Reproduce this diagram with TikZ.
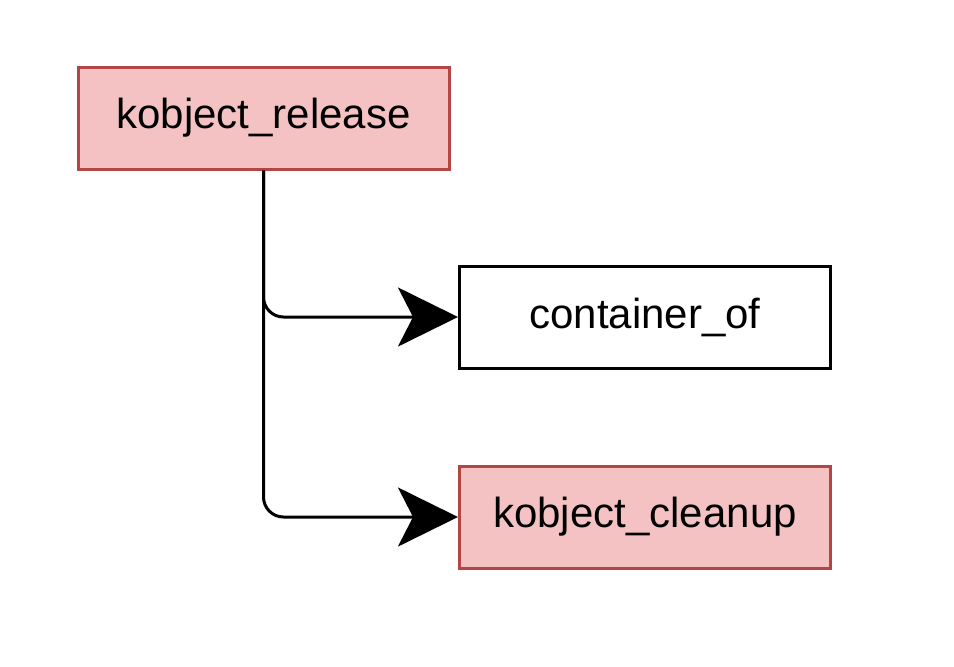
\documentclass[tikz,border=0pt]{standalone}
\usepackage{fontspec}
\setmainfont{Liberation Sans}
\usetikzlibrary{arrows.meta,positioning}
\definecolor{ink}{RGB}{0,0,0}
\definecolor{hotfill}{RGB}{244,194,194}
\definecolor{hotline}{RGB}{180,69,69}
\tikzset{
  fn/.style={draw=ink,line width=1.5pt,fill=white,minimum width=185.5pt,
    minimum height=51pt,inner sep=0pt,font=\fontsize{21}{25}\selectfont},
  hot/.style={fn,draw=hotline,fill=hotfill},
  ar/.style={-{Stealth[length=30pt,width=29.5pt,inset=7.5pt]},
    line width=1.5pt,rounded corners=10pt},
}
\begin{document}
\begin{tikzpicture}[x=0.5pt,y=-0.5pt]
  \useasboundingbox (0,0) rectangle (954,666);
  \node[hot] (rel)   at (263.5,118) {kobject\_release};
  \node[fn]  (cont)  at (645,317)   {container\_of};
  \node[hot] (clean) at (645,517)   {kobject\_cleanup};
  % calls made by the release
  \draw[ar] (rel.south) |- (cont.west);
  \draw[ar] (rel.south) |- (clean.west);
\end{tikzpicture}
\end{document}
